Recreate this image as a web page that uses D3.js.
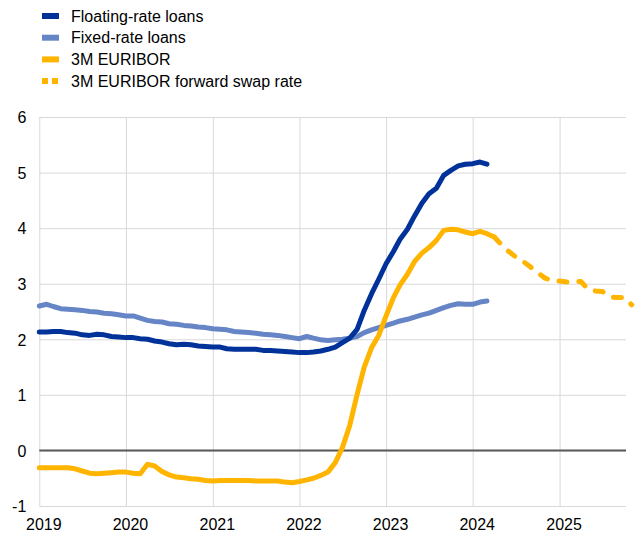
<!DOCTYPE html>
<meta charset="UTF-8">
<style>
    body { margin: 0; background: #fff; }
    text { font-family: "Liberation Sans", Arial, sans-serif; font-size: 16px; fill: #000; }
    .grid line { stroke: #d9d9d9; stroke-width: 1px; }
    .grid .domain { display: none; }
    .series { fill: none; stroke-width: 5px; stroke-linejoin: round; stroke-linecap: round; }
</style>
<body>
<script src="https://cdn.jsdelivr.net/npm/d3@7"></script>
<script>

// monthly values, starting January 2019
var floatingRate = [
  2.13, 2.13, 2.14, 2.14, 2.12, 2.11, 2.08, 2.07, 2.09, 2.08, 2.05, 2.04,
  2.03, 2.03, 2.01, 2.00, 1.97, 1.95, 1.92, 1.90, 1.91, 1.90, 1.88, 1.87,
  1.86, 1.86, 1.83, 1.82, 1.82, 1.82, 1.82, 1.80, 1.80, 1.79, 1.78, 1.77,
  1.76, 1.76, 1.77, 1.79, 1.82, 1.86, 1.94, 2.02, 2.18, 2.52, 2.82, 3.08,
  3.36, 3.58, 3.80, 3.98, 4.22, 4.45, 4.62, 4.72, 4.95, 5.04, 5.12, 5.15,
  5.16, 5.19, 5.15
];
var fixedRate = [
  2.60, 2.63, 2.59, 2.55, 2.54, 2.53, 2.52, 2.50, 2.49, 2.47, 2.46, 2.44,
  2.42, 2.42, 2.38, 2.34, 2.32, 2.31, 2.28, 2.27, 2.25, 2.24, 2.22, 2.21,
  2.19, 2.18, 2.17, 2.14, 2.13, 2.12, 2.11, 2.09, 2.08, 2.07, 2.05, 2.03,
  2.01, 2.05, 2.02, 1.99, 1.98, 1.99, 2.00, 2.02, 2.05, 2.12, 2.17, 2.21,
  2.25, 2.29, 2.33, 2.36, 2.40, 2.44, 2.47, 2.52, 2.57, 2.61, 2.64, 2.63,
  2.63, 2.67, 2.69
];
var euribor = [
  -0.31, -0.31, -0.31, -0.31, -0.31, -0.33, -0.37, -0.41, -0.42, -0.41, -0.40, -0.39,
  -0.39, -0.41, -0.42, -0.25, -0.28, -0.38, -0.44, -0.48, -0.49, -0.51, -0.52, -0.54,
  -0.55, -0.54, -0.54, -0.54, -0.54, -0.54, -0.55, -0.55, -0.55, -0.55, -0.57, -0.58,
  -0.56, -0.53, -0.50, -0.45, -0.39, -0.22, 0.05, 0.45, 1.01, 1.50, 1.85, 2.07,
  2.42, 2.75, 2.98, 3.17, 3.40, 3.55, 3.65, 3.78, 3.96, 3.98, 3.97, 3.93,
  3.90, 3.94, 3.90, 3.84
];
// forward curve, starting April 2024 (joins last EURIBOR point)
var forwardStart = new Date(2024, 3, 1);
var forwardSwap = [
  3.84, 3.70, 3.58, 3.48, 3.40, 3.30, 3.20, 3.10, 3.05,
  3.05, 3.03, 3.04, 3.04, 2.90, 2.87, 2.86, 2.76, 2.75, 2.75, 2.62
];

var yTicks = [-1, 0, 1, 2, 3, 4, 5, 6];
var years = [2019, 2020, 2021, 2022, 2023, 2024, 2025];

var legendItems = [
  {name: "Floating-rate loans", color: "#003299", dash: null},
  {name: "Fixed-rate loans", color: "#6585c6", dash: null},
  {name: "3M EURIBOR", color: "#ffb400", dash: null},
  {name: "3M EURIBOR forward swap rate", color: "#ffb400", dash: "6,4"}
];

var width = 644, height = 536;
var plotLeft = 39.3, plotRight = 626, plotTop = 117, plotBottom = 506;

var svg = d3.select("body").append("svg")
    .attr("width", width)
    .attr("height", height);

var x = d3.scaleTime()
    .domain([new Date(2019, 0, 1), new Date(2026, 0, 1)])
    .range([plotLeft, plotLeft + 7 * 86.7]);

var y = d3.scaleLinear()
    .domain([-1, 6])
    .range([plotBottom, plotTop]);

// gridlines via axes
var yAxis = svg.append("g")
    .attr("class", "grid")
    .attr("transform", "translate(" + plotLeft + ",0)")
    .call(d3.axisLeft(y)
        .tickValues(yTicks)
        .tickFormat(function(d) { return String(d); })
        .tickSize(-(plotRight - plotLeft))
        .tickPadding(13));
yAxis.selectAll("text").attr("dy", "0.36em");

var xAxis = svg.append("g")
    .attr("class", "grid")
    .attr("transform", "translate(0," + plotBottom + ")")
    .call(d3.axisBottom(x)
        .tickValues(years.map(function(yr) { return new Date(yr, 0, 1); }))
        .tickFormat(d3.timeFormat("%Y"))
        .tickSize(-(plotBottom - plotTop))
        .tickPadding(12.6));
xAxis.selectAll("text").attr("dx", 4);

// zero line
svg.append("line")
    .attr("x1", plotLeft).attr("x2", plotRight)
    .attr("y1", y(0)).attr("y2", y(0))
    .attr("stroke", "#595959")
    .attr("stroke-width", 2);

function monthly(values, start) {
  return values.map(function(v, i) {
    return {date: new Date(start.getFullYear(), start.getMonth() + i, 1), value: v};
  });
}

var line = d3.line()
    .x(function(d) { return x(d.date); })
    .y(function(d) { return y(d.value); });

var jan2019 = new Date(2019, 0, 1);

svg.append("path")
    .attr("class", "series")
    .attr("stroke", legendItems[3].color)
    .attr("stroke-dasharray", "8,12")
    .attr("d", line(monthly(forwardSwap, forwardStart)));

svg.append("path")
    .attr("class", "series")
    .attr("stroke", legendItems[1].color)
    .attr("d", line(monthly(fixedRate, jan2019)));

svg.append("path")
    .attr("class", "series")
    .attr("stroke", legendItems[0].color)
    .attr("d", line(monthly(floatingRate, jan2019)));

svg.append("path")
    .attr("class", "series")
    .attr("stroke", legendItems[2].color)
    .attr("d", line(monthly(euribor, jan2019)));

// legend
var legend = svg.selectAll("g.legend")
    .data(legendItems)
  .enter().append("g")
    .attr("class", "legend")
    .attr("transform", function(d, i) { return "translate(0," + (16 + i * 21.7) + ")"; });

legend.append("line")
    .attr("x1", 42).attr("x2", 59)
    .attr("stroke", function(d) { return d.color; })
    .attr("stroke-width", 6)
    .attr("stroke-dasharray", function(d) { return d.dash; });

legend.append("text")
    .attr("x", 71)
    .attr("dy", "0.36em")
    .text(function(d) { return d.name; });

</script>
</body>
